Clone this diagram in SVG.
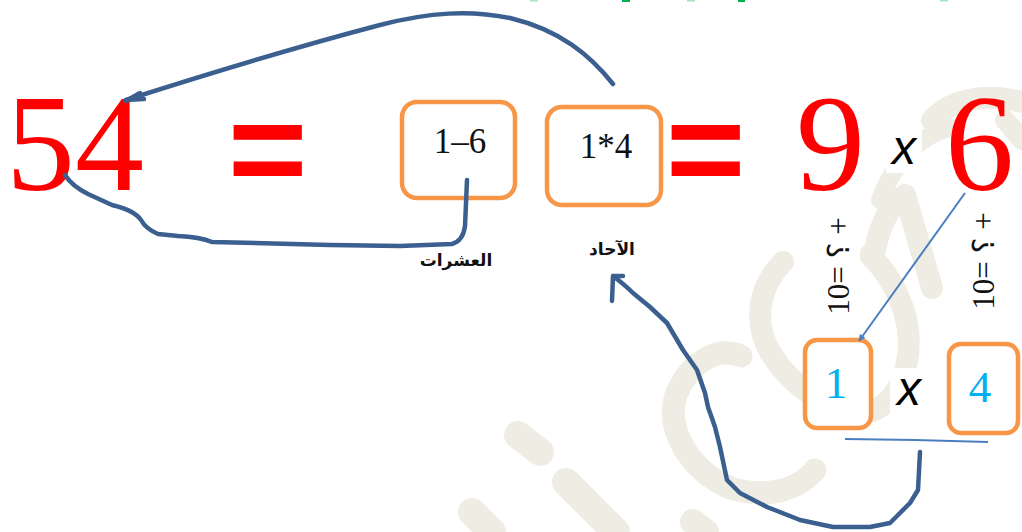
<svg xmlns="http://www.w3.org/2000/svg" width="1022" height="532" viewBox="0 0 1022 532">
  <defs>
    <style>
      .wm { fill: none; stroke: #EEECE3; stroke-linecap: round; stroke-linejoin: round; }
      .big { font-family: "Liberation Serif", serif; fill: #FF0000; font-size: 138px; }
      .eq { font-family: "Liberation Sans", sans-serif; font-weight: bold; fill: #FF0000; font-size: 136px; }
      .box { fill: #FFFFFF; stroke: #F79646; stroke-width: 4.5; }
      .boxtxt { font-family: "Liberation Serif", serif; fill: #111111; font-size: 35px; text-anchor: middle; }
      .cyan { font-family: "Liberation Serif", serif; fill: #00B0F0; font-size: 45px; text-anchor: middle; }
      .times { font-family: "Liberation Sans", sans-serif; font-style: italic; fill: #000000; font-size: 48px; text-anchor: middle; }
      .ar { font-family: "DejaVu Sans", "Noto Sans", sans-serif; font-weight: bold; fill: #111111; font-size: 17px; text-anchor: middle; }
      .rot { font-family: "Liberation Serif", "DejaVu Serif", serif; fill: #111111; font-size: 31px; text-anchor: middle; }
      .q { font-family: "DejaVu Serif", "DejaVu Sans", serif; font-size: 30px; }
      .hand { fill: none; stroke: #3B5F8E; stroke-width: 4.5; stroke-linecap: round; stroke-linejoin: round; }
      .thin { fill: none; stroke: #4A7EC1; stroke-width: 2; }
    </style>
    <marker id="tri" viewBox="0 0 10 10" refX="9" refY="5" markerWidth="7" markerHeight="7" orient="auto" markerUnits="userSpaceOnUse">
      <path d="M0,0 L10,5 L0,10 z" fill="#4A7EC1"/>
    </marker>
  </defs>
  <rect width="1022" height="532" fill="#FFFFFF"/>

  <!-- top green marks (cut-off line) -->
  <g id="topmarks" fill="#00B050">
    <rect x="530" y="0" width="8" height="1.5" fill="#A8E3BE"/>
    <rect x="622" y="0" width="8" height="2"/>
    <rect x="687" y="0" width="8" height="1.5" fill="#A8E3BE"/>
    <rect x="738" y="0" width="7" height="2"/>
    <rect x="940" y="0" width="8" height="1.5" fill="#A8E3BE"/>
  </g>

  <!-- watermark -->
  <g id="watermark" class="wm">
    <path d="M741,356 C715,345 688,365 676,395 C665,430 690,470 730,488 C770,500 800,488 815,470" stroke-width="23"/>
    <path d="M783,262 C760,285 752,320 770,352 C790,385 830,415 870,412 C905,400 915,350 905,315 C898,290 885,270 870,255" stroke-width="22"/>
    <path d="M875,250 C880,225 890,205 905,195 L932,288" stroke-width="22"/>
    <path d="M932,120 C950,100 985,92 1022,102" stroke-width="22"/>
    <path d="M880,200 C895,160 920,135 950,128" stroke-width="18"/>
    <path d="M1005,120 L1022,140" stroke-width="20"/>
    <path d="M518,435 L540,452" stroke-width="28"/>
    <path d="M566,482 L616,532" stroke-width="28"/>
    <path d="M472,512 L492,532" stroke-width="28"/>
    <path d="M693,522 L706,532" stroke-width="26"/>
  </g>
  <!-- white backings behind small texts -->
  <g id="backings" fill="#FFFFFF">
    <rect x="886" y="128" width="36" height="45"/>
    <rect x="818" y="198" width="42" height="125"/>
    <rect x="960" y="198" width="42" height="125"/>
    <rect x="890" y="368" width="40" height="45"/>
  </g>

  <!-- left equation -->
  <g id="n54"><text class="big" x="6" y="190">54</text></g>
  <g id="eq1"><text class="eq" x="228" y="195">=</text></g>
  <g id="box16">
    <rect class="box" x="402" y="102" width="113" height="96" rx="15"/>
    <text class="boxtxt" x="460" y="153">1–6</text>
  </g>
  <g id="box14">
    <rect class="box" x="547" y="107" width="114" height="98" rx="15"/>
    <text class="boxtxt" x="606" y="158">1*4</text>
  </g>
  <g id="eq2"><text class="eq" x="666" y="195">=</text></g>
  <g id="n9"><text class="big" x="796" y="190">9</text></g>
  <g id="x1"><text class="times" x="904" y="164">x</text></g>
  <g id="n6"><text class="big" x="945" y="190">6</text></g>

  <g id="lbl-tens"><text class="ar" x="456" y="266">العشرات</text></g>
  <g id="lbl-units"><text class="ar" x="612" y="255">الآحاد</text></g>

  <g id="rot1"><text class="rot" transform="translate(849,266) rotate(-90)">10= <tspan class="q">؟</tspan> +</text></g>
  <g id="rot2"><text class="rot" transform="translate(994,261) rotate(-90)">10= <tspan class="q">؟</tspan> +</text></g>

  <g id="box1">
    <rect class="box" x="805" y="340" width="66" height="88" rx="12"/>
    <text class="cyan" x="836" y="398">1</text>
  </g>
  <g id="x2"><text class="times" x="909" y="405">x</text></g>
  <g id="box4">
    <rect class="box" x="949" y="344" width="69" height="89" rx="12"/>
    <text class="cyan" x="980" y="402">4</text>
  </g>

  <g id="connectors">
    <path class="hand" d="M613,84 C590,55 560,30 510,18 C470,10 430,12 380,25 C300,46 220,70 126,100"/>
    <path class="hand" d="M126,100 L144,99 M126,101 L140,93"/>
    <path class="hand" d="M467,180 L465,226 Q463,241 452,244 L400,246 L330,245 L212,242 Q200,237 178,236 L158,234 Q146,229 141,220 Q134,210 112,205 L88,194 Q72,186 65,175"/>
    <path class="hand" d="M612,301 L613,276 L623,276 M613,276 Q625,285 633,293 L650,307 L667,323 L683,350 L697,370 L705,393 L708,407 L715,427 L720,447 L727,480 L740,493 L767,507 L800,520 L833,527 L870,527 L890,523 L900,513 L910,503 L918,490 L920,452"/>
    <path class="thin" d="M845,439 L915,440 L988,442"/>
    <line class="thin" x1="965" y1="193" x2="859" y2="341" marker-end="url(#tri)"/>
  </g>
</svg>
